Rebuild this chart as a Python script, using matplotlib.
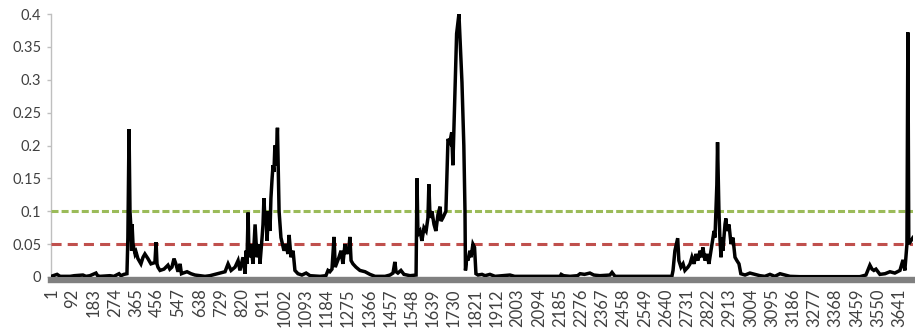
import numpy as np
import matplotlib
matplotlib.use("Agg")
import matplotlib.pyplot as plt

# DATOS

idx = [1, 9, 26, 39, 82, 100, 137, 150, 167, 193, 200, 210, 253, 270, 292, 300, 313, 326,
       330, 335, 339, 343, 346, 348, 352, 361, 365, 373, 386, 395, 403, 416, 429, 446, 451,
       455, 459, 468, 485, 502, 510, 519, 528, 536, 545, 554, 560, 567, 584, 601, 618, 639,
       661, 682, 704, 725, 747, 760, 773, 790, 803, 811, 824, 833, 837, 841, 846, 850, 858,
       867, 876, 884, 893, 897, 906, 910, 914, 918, 923, 927, 931, 936, 940, 944, 949, 953,
       957, 961, 966, 972, 979, 987, 1000, 1009, 1017, 1022, 1030, 1039, 1047, 1060, 1077,
       1095, 1112, 1155, 1180,
       1189, 1197, 1206, 1215, 1220, 1236, 1245, 1253, 1262, 1270, 1279, 1283, 1288, 1296,
       1309, 1326, 1348, 1369, 1391, 1434, 1455, 1468, 1476, 1481, 1489, 1502, 1515, 1541,
       1567,
       1571, 1575, 1584, 1592, 1601, 1610, 1618, 1622, 1627, 1635, 1644, 1652, 1661, 1670,
       1674, 1682, 1691, 1695, 1704, 1712, 1720, 1725, 1734, 1741, 1751, 1764, 1772, 1777,
       1779, 1785, 1790, 1798, 1803, 1811, 1818, 1824, 1833, 1850, 1863, 1884, 1906, 1970,
       1990, 2013, 2185, 2190, 2200, 2228, 2260, 2271, 2290, 2313, 2330, 2356, 2399, 2408,
       2421, 2528, 2665,
       2670, 2678, 2690, 2695, 2704, 2713, 2721, 2734, 2743, 2751, 2760, 2768, 2777, 2786,
       2794, 2798, 2807, 2816, 2824, 2837, 2846, 2850, 2858, 2861, 2867, 2871, 2876, 2880,
       2884, 2893, 2897, 2901, 2910, 2919, 2927, 2936, 2944, 2953, 2961, 2979, 3000, 3022,
       3043, 3064, 3086, 3107, 3129, 3150, 3172, 3214, 3472, 3498,
       3515, 3524, 3532, 3541, 3558, 3580, 3601, 3622, 3644, 3657, 3665, 3674, 3678, 3682,
       3691, 3700]

valores = [0.001, 0.002, 0.004, 0.001, 0.001, 0.002, 0.003, 0.001, 0.002, 0.006, 0.002, 0.001, 0.002, 0.001, 0.005, 0.002, 0.004, 0.005,
           0.06, 0.225, 0.10, 0.075, 0.04, 0.08, 0.05, 0.035, 0.038, 0.028, 0.02, 0.03, 0.035, 0.028, 0.02, 0.022, 0.053,
           0.02, 0.015, 0.01, 0.012, 0.018, 0.012, 0.015, 0.028, 0.02, 0.008, 0.02, 0.005, 0.006, 0.008, 0.005, 0.003, 0.002,
           0.001, 0.002, 0.004, 0.006, 0.008, 0.02, 0.01, 0.015, 0.025, 0.01, 0.03, 0.005, 0.04, 0.02, 0.098, 0.03, 0.05,
           0.02, 0.08, 0.03, 0.05, 0.02, 0.06, 0.08, 0.12, 0.09, 0.10, 0.055, 0.08, 0.10, 0.07, 0.12, 0.15, 0.17,
           0.16, 0.20, 0.17, 0.227, 0.10, 0.06, 0.04, 0.05, 0.035, 0.064, 0.03, 0.04, 0.01, 0.005, 0.003,
           0.006, 0.002, 0.001, 0.002,
           0.01, 0.008, 0.012, 0.061, 0.015, 0.03, 0.04, 0.02, 0.05, 0.035, 0.045, 0.061, 0.025, 0.02,
           0.015, 0.01, 0.008, 0.004, 0.001, 0.001, 0.003, 0.006, 0.023, 0.008, 0.006, 0.01, 0.004, 0.002,
           0.003,
           0.15, 0.065, 0.07, 0.055, 0.075, 0.07, 0.09, 0.141, 0.09, 0.10, 0.08, 0.07, 0.095, 0.107,
           0.085, 0.09, 0.097, 0.10, 0.21, 0.205, 0.22, 0.17, 0.285, 0.37, 0.40, 0.296, 0.2, 0.1,
           0.01, 0.03, 0.025, 0.04, 0.03, 0.05, 0.045, 0.005, 0.003, 0.004, 0.002, 0.004, 0.001, 0.003,
           0.001, 0.001, 0.001, 0.004, 0.002, 0.001, 0.002, 0.005, 0.004, 0.006, 0.003, 0.002, 0.003, 0.007,
           0.001, 0.001, 0.001,
           0.01, 0.04, 0.059, 0.025, 0.015, 0.02, 0.01, 0.015, 0.02, 0.03, 0.02, 0.035, 0.025, 0.04,
           0.03, 0.045, 0.025, 0.035, 0.02, 0.05, 0.07, 0.06, 0.14, 0.205, 0.1, 0.06, 0.03, 0.06,
           0.04, 0.08, 0.089, 0.07, 0.08, 0.05, 0.06, 0.03, 0.025, 0.02, 0.005, 0.003, 0.006, 0.004,
           0.002, 0.001, 0.004, 0.001, 0.005, 0.003, 0.001, 0.0005, 0.0005, 0.003,
           0.018, 0.012, 0.01, 0.012, 0.004, 0.005, 0.008, 0.006, 0.01, 0.026, 0.01, 0.05, 0.372, 0.05,
           0.055, 0.06]

N = 3700

# umbrales
UMBRAL_ALTO = 0.1
UMBRAL_BAJO = 0.05

y_ticks = [0, 0.05, 0.1, 0.15, 0.2, 0.25, 0.3, 0.35, 0.4]
y_labels = ["0", "0.05", "0.1", "0.15", "0.2", "0.25", "0.3", "0.35", "0.4"]

x_ticks = list(range(1, N, 91))

# GRAFICA
plt.rcParams['font.family'] = ['Lato', 'DejaVu Sans']

fig = plt.figure(figsize=(9.15, 3.32), dpi=100)
ax = fig.add_axes([51/915, 1 - 277/332, (913 - 51)/915, (277 - 14)/332])

ax.plot(idx, valores, color='black', lw=2.5, zorder=4, solid_joinstyle='miter')

ax.axhline(UMBRAL_ALTO, color='#9BBB59', lw=2.2, dashes=(2.3, 1.0), zorder=3)
ax.axhline(UMBRAL_BAJO, color='#C0504D', lw=2.2, dashes=(3.3, 2.0), zorder=3)

ax.set_xlim(0, N)
ax.set_ylim(0, 0.4)

# ejes (antes de las etiquetas, set_position reinicia los ticks)
for s in ['top', 'right']:
    ax.spines[s].set_visible(False)

ax.spines['left'].set_color('#BFBFBF')
ax.spines['left'].set_linewidth(1)
ax.spines['bottom'].set_position(('outward', 2.2))
ax.spines['bottom'].set_color('#808080')
ax.spines['bottom'].set_linewidth(4.6)

ax.set_yticks(y_ticks)
ax.set_yticklabels(y_labels)
ax.set_xticks(x_ticks)
ax.set_xticklabels([str(t) for t in x_ticks], rotation=90)

ax.tick_params(axis='y', length=3, width=1, color='#BFBFBF', pad=4,
               labelsize=10.5, labelcolor='#404040')
ax.tick_params(axis='x', length=0, pad=6, labelsize=12, labelcolor='#404040')

fig.savefig("out.png", dpi=100)
